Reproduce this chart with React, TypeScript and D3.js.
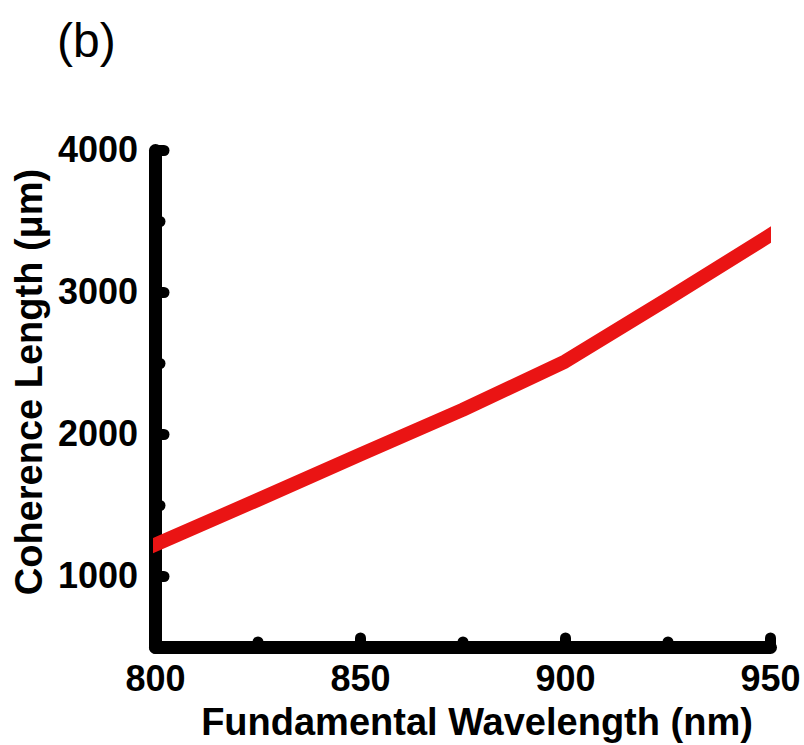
import { useEffect, useRef } from "react";
import * as d3 from "d3";

// wavelength (nm) vs coherence length (um)
const wavelengths = [800, 825, 850, 875, 900, 925, 950];
const coherence = [1220, 1535, 1855, 2170, 2510, 2950, 3400];

const xMajor = [800, 850, 900, 950];
const xMinor = [825, 875, 925];
const yMajor = [1000, 2000, 3000, 4000];
const yMinor = [1500, 2500, 3500];

const FONT = "'Liberation Sans', Arial, sans-serif";

function App() {
  const ref = useRef<SVGSVGElement>(null);

  useEffect(() => {
    const svg = d3.select(ref.current);
    svg.selectAll("*").remove();

    const x = d3.scaleLinear().domain([800, 950]).range([155, 770]);
    const y = d3.scaleLinear().domain([500, 4000]).range([647, 150]);

    // clip for the red curve
    svg
      .append("clipPath")
      .attr("id", "plotclip")
      .append("rect")
      .attr("x", 153)
      .attr("y", 0)
      .attr("width", 771 - 153)
      .attr("height", 745);

    // minor ticks first (under the axis)
    const styleTicks = (g: any, w: number) => {
      g.selectAll(".tick line")
        .attr("stroke", "#000")
        .attr("stroke-width", w)
        .attr("stroke-linecap", "round");
    };

    const yMin = svg
      .append("g")
      .attr("transform", `translate(${x(800)},0)`)
      .call(d3.axisLeft(y).tickValues(yMinor).tickSizeInner(-5).tickSizeOuter(0).tickFormat(() => ""));
    yMin.select(".domain").remove();
    styleTicks(yMin, 11);

    const xMin = svg
      .append("g")
      .attr("transform", `translate(0,${y(500)})`)
      .call(d3.axisBottom(x).tickValues(xMinor).tickSizeInner(-5).tickSizeOuter(0).tickFormat(() => ""));
    xMin.select(".domain").remove();
    styleTicks(xMin, 11);

    // major axes
    const yAx = svg
      .append("g")
      .attr("transform", `translate(${x(800)},0)`)
      .call(d3.axisLeft(y).tickValues(yMajor).tickSizeInner(-9).tickSizeOuter(0).tickPadding(17).tickFormat(d3.format("d")));
    yAx.select(".domain")
      .attr("stroke", "#000")
      .attr("stroke-width", 13)
      .attr("stroke-linecap", "round")
      .attr("stroke-linejoin", "round");
    styleTicks(yAx, 11);
    yAx.selectAll("text")
      .attr("font-family", FONT)
      .attr("font-weight", "bold")
      .attr("font-size", 36)
      .attr("fill", "#000");

    const xAx = svg
      .append("g")
      .attr("transform", `translate(0,${y(500)})`)
      .call(d3.axisBottom(x).tickValues(xMajor).tickSizeInner(-9).tickSizeOuter(0).tickPadding(18).tickFormat(d3.format("d")));
    xAx.select(".domain")
      .attr("stroke", "#000")
      .attr("stroke-width", 13)
      .attr("stroke-linecap", "round");
    styleTicks(xAx, 11);
    xAx.selectAll("text")
      .attr("font-family", FONT)
      .attr("font-weight", "bold")
      .attr("font-size", 36)
      .attr("fill", "#000");

    // the curve
    const line = d3
      .line<number>()
      .x((d, i) => x(wavelengths[i]))
      .y((d) => y(d));
    svg
      .append("path")
      .datum(coherence)
      .attr("clip-path", "url(#plotclip)")
      .attr("fill", "none")
      .attr("stroke", "#ea1414")
      .attr("stroke-width", 14)
      .attr("stroke-linecap", "square")
      .attr("stroke-linejoin", "round")
      .attr("d", line);

    // titles
    svg
      .append("text")
      .attr("x", 477)
      .attr("y", 735)
      .attr("text-anchor", "middle")
      .attr("font-family", FONT)
      .attr("font-weight", "bold")
      .attr("font-size", 38)
      .text("Fundamental Wavelength (nm)");

    svg
      .append("text")
      .attr("transform", "translate(42,382) rotate(-90)")
      .attr("text-anchor", "middle")
      .attr("font-family", FONT)
      .attr("font-weight", "bold")
      .attr("font-size", 38)
      .text("Coherence Length (μm)");

    svg
      .append("text")
      .attr("x", 57)
      .attr("y", 57)
      .attr("font-family", FONT)
      .attr("font-size", 48)
      .text("(b)");
  }, []);

  return (
    <svg
      ref={ref}
      width={804}
      height={745}
      style={{ position: "absolute", left: 0, top: 0, background: "#fff" }}
    ></svg>
  );
}

export default App;
